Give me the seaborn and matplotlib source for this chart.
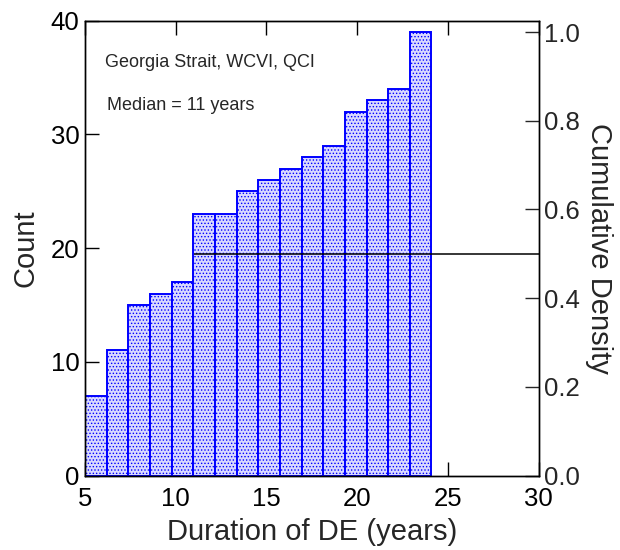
import numpy as np
import pandas as pd
import matplotlib
matplotlib.use("Agg")
import matplotlib.pyplot as plt
import seaborn as sns

# ---- data ----
bin_start, bin_end, n_bins = 5.0, 24.1, 16
cum_counts = [7, 11, 15, 16, 17, 23, 23, 25, 26, 27, 28, 29, 32, 33, 34, 39]
median_years = 11
median_density = 0.5
x_ticks = [5, 10, 15, 20, 25, 30]
y_ticks = [0, 10, 20, 30, 40]
dens_ticks = [0.0, 0.2, 0.4, 0.6, 0.8, 1.0]
label_region = "Georgia Strait, WCVI, QCI"
label_median = f"Median = {median_years} years"

edges = list(np.linspace(bin_start, bin_end, n_bins + 1))
centers = [(a + b) / 2 for a, b in zip(edges[:-1], edges[1:])]
df = pd.DataFrame({"duration": centers, "count": cum_counts})
total = cum_counts[-1]

sns.set_style("ticks")
plt.rcParams["font.family"] = ["Liberation Sans", "DejaVu Sans"]
plt.rcParams["hatch.linewidth"] = 0.6
plt.rcParams["hatch.color"] = "#3a3aff"

fig = plt.figure(figsize=(6.2, 5.5), dpi=100)
ax = fig.add_axes([85 / 620, 1 - 475.5 / 550, 453.5 / 620, 454.8 / 550])

sns.histplot(data=df, x="duration", weights="count", bins=edges, ax=ax,
             element="bars", fill=True, facecolor="#d9d9ff", edgecolor="#0000ff",
             linewidth=1.4, hatch=".....", alpha=1.0)

ax.set_xlim(x_ticks[0], x_ticks[-1])
ax.set_ylim(y_ticks[0], y_ticks[-1])
ax.set_xticks(x_ticks)
ax.set_yticks(y_ticks)
ax.tick_params(direction="in", length=10, width=1, labelsize=18.5, top=True,
               right=False, colors="black", pad=4)
ax.tick_params(axis="x", pad=8)
ax.set_xlabel("Duration of DE (years)", fontsize=21, labelpad=5)
ax.set_ylabel("Count", fontsize=21, labelpad=8)
for s in ax.spines.values():
    s.set_visible(True)
    s.set_linewidth(1.0)
    s.set_color("black")

ax2 = ax.twinx()
ax2.set_ylim(0, y_ticks[-1] / total)
ax2.set_yticks(dens_ticks)
ax2.set_yticklabels([f"{t:.1f}" for t in dens_ticks])
ax2.tick_params(direction="in", length=10, width=1, labelsize=18.5, pad=4)
ax2.set_ylabel("Cumulative Density", fontsize=21, rotation=270, labelpad=24)
ax2.hlines(median_density, median_years, x_ticks[-1], color="black", linewidth=1.1)
for s in ax2.spines.values():
    s.set_linewidth(1.0)
    s.set_color("black")

ax.text(0.044, 0.909, label_region, transform=ax.transAxes, fontsize=13,
        va="center", ha="left")
ax.text(0.048, 0.814, label_median, transform=ax.transAxes, fontsize=13,
        va="center", ha="left")

fig.savefig("out.png", dpi=100)
